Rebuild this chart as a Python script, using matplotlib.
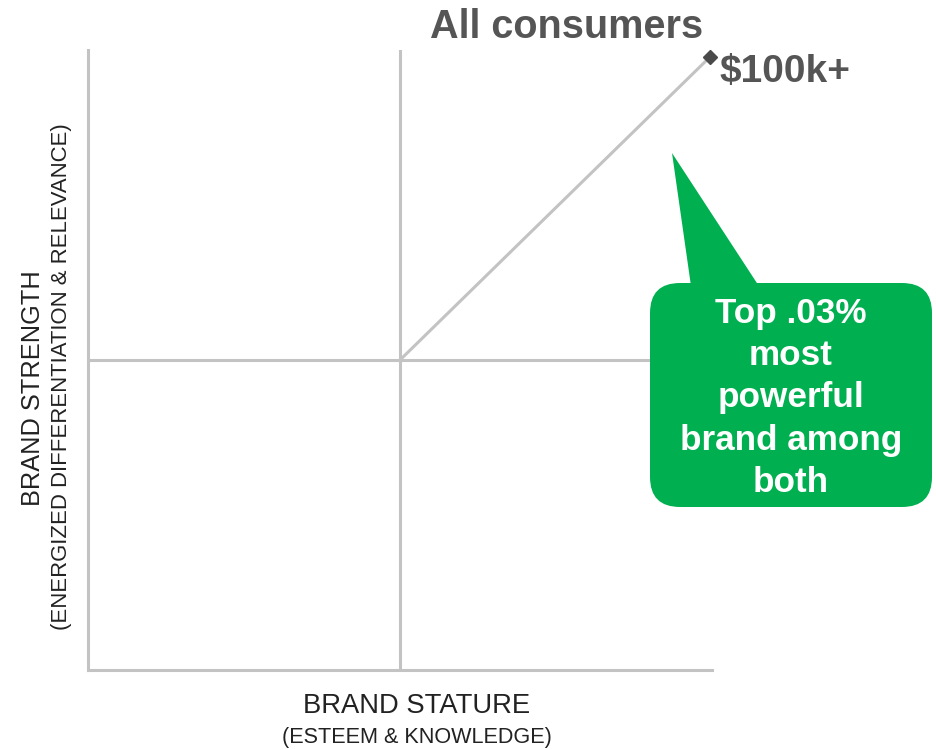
import matplotlib
matplotlib.use('Agg')
import matplotlib.pyplot as plt
from matplotlib.patches import FancyBboxPatch, Polygon

plt.rcParams['font.family'] = ['Liberation Sans', 'DejaVu Sans']

# Dados
serie_x = [50, 99.7]      # brand stature: origem -> $100k+
serie_y = [50, 98.9]      # brand strength
rotulo_ponto = '$100k+'
titulo = 'All consumers'
texto_balao = 'Top .03%\nmost\npowerful\nbrand among\nboth'

cinza_eixo = '#c3c3c3'
cinza_texto = '#555555'
verde = '#00b050'

fig = plt.figure(figsize=(9.36, 7.5), dpi=100)
fig.patch.set_facecolor('white')

# Eixo principal (quadrantes)
ax = fig.add_axes([88 / 936, 80 / 750, 624 / 936, 620 / 750])
ax.set_xlim(0, 100)
ax.set_ylim(0, 100)
ax.set_xticks([])
ax.set_yticks([])
for lado in ['top', 'right']:
    ax.spines[lado].set_visible(False)
for lado in ['left', 'bottom']:
    ax.spines[lado].set_color(cinza_eixo)
    ax.spines[lado].set_linewidth(2.2)
ax.axvline(50, color=cinza_eixo, lw=2.2)
ax.axhline(50, color=cinza_eixo, lw=2.2)

ax.plot(serie_x, serie_y, color=cinza_eixo, lw=2.2, clip_on=False)
ax.plot(serie_x[-1:], serie_y[-1:], marker='D', ms=7.5, color='#4a4a4a', clip_on=False)

# Camada de sobreposição em pixels para textos e balão
ov = fig.add_axes([0, 0, 1, 1], facecolor='none')
ov.set_xlim(0, 936)
ov.set_ylim(750, 0)
ov.axis('off')

ov.text(567, 27, titulo, ha='center', va='center', fontsize=28.5,
        fontweight='bold', color=cinza_texto)
ov.text(719, 72, rotulo_ponto, ha='left', va='center', fontsize=28,
        fontweight='bold', color=cinza_texto)

# Rótulos dos eixos
ov.text(417, 706, 'BRAND STATURE', ha='center', va='center', fontsize=19.7, color='#222222')
ov.text(417, 737, '(ESTEEM & KNOWLEDGE)', ha='center', va='center', fontsize=15.6, color='#222222')
ov.text(33, 388, 'BRAND STRENGTH', ha='center', va='center', rotation=90,
        fontsize=18.3, color='#222222')
ov.text(62, 377, '(ENERGIZED DIFFERENTIATION & RELEVANCE)', ha='center', va='center',
        rotation=90, fontsize=15.9, color='#222222')

# Balão verde
ov.add_patch(Polygon([(672, 153), (693, 300), (768, 300)], closed=True,
                     facecolor=verde, edgecolor='none'))
ov.add_patch(FancyBboxPatch((650, 283), 282, 224,
                            boxstyle='round,pad=0,rounding_size=30',
                            facecolor=verde, edgecolor='none'))
ov.text(791, 398, texto_balao, ha='center', va='center', fontsize=25.3,
        fontweight='bold', color='white', linespacing=1.36)

plt.savefig('out.png', dpi=100, facecolor='white')
plt.close()
